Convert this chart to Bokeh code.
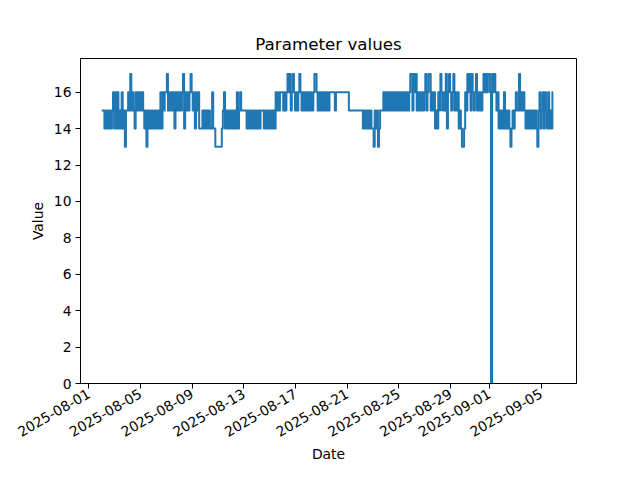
import math
import pandas as pd
from bokeh.plotting import figure
from bokeh.models import FixedTicker, Range1d
from bokeh.embed import file_html
from bokeh.resources import INLINE

# ---- data: one reading every 2 hours, starting 2025-08-02 00:00 ----
start_time = "2025-08-02 00:00"
step = "2h"

week1 = [
    15, 15, 15, 14, 15, 14, 15, 14, 15, 14, 15, 16,   # Aug 02
    14, 16, 14, 16, 14, 15, 14, 16, 14, 15, 13, 15,   # Aug 03
    15, 16, 15, 17, 15, 16, 15, 14, 16, 15, 16, 15,   # Aug 04
    16, 15, 16, 15, 14, 15, 13, 15, 14, 15, 14, 15,   # Aug 05
    14, 15, 14, 15, 14, 15, 14, 16, 14, 16, 15, 16,   # Aug 06
    16, 17, 15, 16, 15, 16, 15, 16, 14, 16, 15, 16,   # Aug 07
    15, 16, 15, 16, 17, 14, 16, 15, 16, 15, 16, 17,   # Aug 08
]
week2 = [
    16, 15, 16, 14, 16, 15, 16, 14, 14, 14, 15, 14,   # Aug 09
    15, 14, 15, 14, 15, 14, 14, 16, 14, 14, 13, 13,   # Aug 10
    13, 13, 13, 13, 14, 15, 16, 14, 15, 14, 15, 14,   # Aug 11
    15, 14, 15, 14, 15, 14, 16, 14, 15, 16, 15, 15,   # Aug 12
    15, 15, 15, 14, 15, 14, 15, 14, 15, 14, 15, 14,   # Aug 13
    15, 14, 15, 14, 15, 15, 15, 14, 15, 14, 15, 14,   # Aug 14
    15, 14, 15, 14, 15, 14, 16, 15, 16, 15, 16, 16,   # Aug 15
]
week3 = [
    16, 15, 16, 15, 16, 17, 16, 17, 15, 16, 17, 16,   # Aug 16
    15, 16, 15, 16, 17, 16, 15, 16, 15, 16, 15, 16,   # Aug 17
    15, 16, 15, 16, 15, 16, 17, 17, 16, 15, 16, 15,   # Aug 18
    16, 15, 16, 15, 16, 15, 16, 15, 16, 16, 16, 16,   # Aug 19
    16, 15, 16, 16, 16, 16, 16, 16, 16, 16, 16, 16,   # Aug 20
    16, 16, 15, 15, 15, 15, 15, 15, 15, 15, 15, 15,   # Aug 21
    15, 15, 15, 14, 15, 14, 15, 14, 15, 14, 15, 14,   # Aug 22
]
week4 = [
    14, 13, 15, 14, 15, 13, 14, 15, 15, 15, 16, 15,   # Aug 23
    16, 15, 16, 15, 16, 15, 16, 15, 16, 15, 16, 15,   # Aug 24
    16, 15, 16, 15, 16, 15, 16, 15, 16, 15, 16, 17,   # Aug 25
    17, 15, 17, 16, 17, 15, 16, 15, 16, 15, 16, 15,   # Aug 26
    16, 17, 15, 16, 17, 17, 15, 16, 15, 16, 14, 15,   # Aug 27
    14, 16, 15, 17, 16, 15, 16, 15, 17, 14, 16, 17,   # Aug 28
    16, 15, 16, 17, 15, 16, 15, 16, 14, 15, 14, 13,   # Aug 29
]
week5 = [
    13, 14, 16, 15, 17, 16, 17, 15, 17, 16, 15, 16,   # Aug 30
    17, 15, 16, 15, 16, 15, 16, 17, 16, 17, 16, 17,   # Aug 31
    17, 16, 0, 17, 16, 17, 16, 15, 16, 14, 15, 14,    # Sep 01
    15, 14, 16, 14, 15, 14, 15, 14, 13, 14, 15, 14,   # Sep 02
    15, 16, 15, 15, 17, 15, 16, 15, 16, 15, 14, 15,   # Sep 03
    14, 15, 14, 15, 14, 15, 14, 15, 14, 13, 15, 16,   # Sep 04
    14, 15, 16, 14, 16, 15, 14, 16, 14, 15, 14, 16,   # Sep 05
]

x_tick_labels = ["2025-08-01", "2025-08-05", "2025-08-09", "2025-08-13",
                 "2025-08-17", "2025-08-21", "2025-08-25", "2025-08-29",
                 "2025-09-01", "2025-09-05"]
y_ticks = [0, 2, 4, 6, 8, 10, 12, 14, 16]

values = week1 + week2 + week3 + week4 + week5
times = pd.date_range(start_time, periods=len(values), freq=step)


def ms(ts):
    return pd.Timestamp(ts).value / 1e6


x_start = ms("2025-08-01") - 0.642 * 86400000
x_end = ms("2025-08-01") + 37.74 * 86400000

p = figure(width=624, height=464, x_axis_type="datetime",
           output_backend="svg", toolbar_location=None,
           x_range=Range1d(x_start, x_end), y_range=Range1d(0, 17.85),
           title="Parameter values",
           min_border_left=80, min_border_right=48,
           min_border_top=58, min_border_bottom=80)

p.step(times, values, mode="center", line_width=2.0, color="#1f77b4",
       line_join="round")

tick_ms = [ms(t) for t in x_tick_labels]
p.xaxis.ticker = FixedTicker(ticks=tick_ms)
p.xaxis.major_label_overrides = {t: lab for t, lab in zip(tick_ms, x_tick_labels)}
p.xaxis.major_label_orientation = math.pi / 6
p.yaxis.ticker = FixedTicker(ticks=y_ticks)

p.xaxis.axis_label = "Date"
p.yaxis.axis_label = "Value"
p.xaxis.axis_label_standoff = 1

for ax in (p.xaxis, p.yaxis):
    ax.minor_tick_line_color = None
    ax.major_tick_out = 5
    ax.major_tick_in = 0
    ax.major_tick_line_color = "black"
    ax.axis_line_color = "black"
    ax.major_label_text_font = "DejaVu Sans"
    ax.major_label_text_font_size = "13.9px"
    ax.major_label_text_color = "black"
    ax.axis_label_text_font = "DejaVu Sans"
    ax.axis_label_text_font_size = "13.9px"
    ax.axis_label_text_font_style = "normal"
    ax.axis_label_text_color = "black"
    ax.major_label_standoff = 4

p.xgrid.visible = False
p.ygrid.visible = False
p.outline_line_color = "black"
p.outline_line_alpha = 1.0

p.title.align = "center"
p.title.text_font = "DejaVu Sans"
p.title.text_font_size = "16.7px"
p.title.text_font_style = "normal"
p.title.text_color = "black"

open("out.html", "w").write(file_html(p, INLINE))
